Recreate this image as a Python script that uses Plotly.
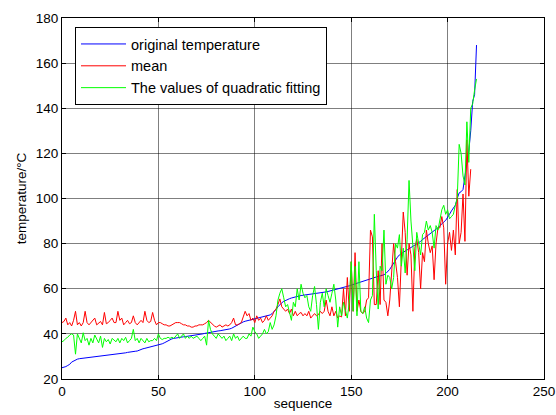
import plotly.graph_objects as go

blue_temp = [
    25, 25.2, 25.5, 26, 26.5, 27.5, 28, 28.5, 28.8, 29, 29.1,
    29.2, 29.3, 29.4, 29.5, 29.6, 29.7, 29.8, 29.9, 30, 30.1, 30.2, 30.3, 30.4, 30.5, 30.6, 30.7, 30.8, 30.9, 31, 31.1,
    31.3, 31.5, 31.6, 31.8, 32, 32.1, 32.2, 32.3, 32.4, 32.8, 33.1, 33.4, 33.6, 33.8, 34, 34.1, 34.3, 34.5, 34.8, 35,
    35.3, 35.6, 36, 36.5, 37, 37.5, 37.8, 38, 38.2, 38.4,
    38.5, 38.6, 38.7, 38.8, 38.9, 39, 39.1, 39.2, 39.3, 39.5, 39.7, 39.9, 40, 40.2, 40.4, 40.6, 40.8, 41, 41.1, 41.2,
    41.3, 41.4, 41.5, 41.6, 41.8, 42, 42.2, 42.5, 43, 43.5, 44, 44.5, 45, 45.3, 45.6, 45.8, 46, 46.2, 46.4, 46.6,
    46.8, 47, 47.2, 47.4, 47.6, 47.8, 48, 48.4, 49, 49.8, 50.8, 52, 53, 53.8, 54.4, 54.9, 55.3, 55.6, 55.9, 56.2,
    56.4, 56.6, 56.8, 57, 57.1, 57.2, 57.3, 57.4, 57.5, 57.6, 57.7, 57.8, 57.9, 58, 58.2, 58.4, 58.6, 58.8, 59, 59.2,
    59.4, 59.6, 59.8, 60, 60.2, 60.5, 60.8, 61, 61.3, 61.6,
    61.9, 62.2, 62.5, 62.8, 63.1, 63.4, 63.7, 64, 64.3, 64.6, 64.9, 65.1, 65.3, 65.5, 65.7, 65.9, 66.2, 66.8, 67.6, 68.6,
    70, 71.5, 73, 74, 75, 75.7, 76.2, 76.7, 77.2, 77.7, 78.2, 78.7, 79.2, 79.7, 80.3, 81, 81.8, 82.5, 83.2, 84,
    84.6, 85.2, 85.8, 86.4, 87, 88, 89, 89.6, 90.3, 91.5, 93, 94.5, 95.5, 97, 100, 102.5, 103, 104, 110, 116,
    121, 130, 143, 146, 168,
]

red_mean = [
    45, 45.5, 47, 44, 45, 43.5, 46, 50, 44, 45, 43.5, 45, 50, 45, 44, 45, 46, 47, 44, 45,
    45.5, 44, 49.5, 44.5, 45, 46, 47, 45, 45, 50, 46, 47, 44, 45, 46, 44.5, 45, 48, 45, 44,
    45, 46, 45, 50, 46, 45, 45.5, 49.5, 46, 44, 45,
    45, 44.5, 44, 44, 43.5, 43.5, 44, 44.5, 45, 45, 45, 44.5, 44, 44, 43.5, 43.5, 43, 43, 43.5, 43.5,
    44, 44, 44, 44.5, 45, 46, 45, 44, 43.5, 43, 43.5, 44, 43, 43.5, 44, 43.5, 44, 45, 47, 44,
    44, 44.5, 45, 47.5, 50, 48, 49, 46, 47, 45, 48, 46, 47, 45, 46, 48, 46, 47, 48, 50,
    51, 53, 55.5, 52, 51, 50, 51, 49, 51, 48, 50, 48, 49, 49.5, 48, 49, 48, 50, 47, 48,
    49, 48, 48.5, 50, 49, 50, 55, 50, 48, 52, 48, 50, 47, 48, 47.5,
    60, 48, 65, 50, 72, 50, 76, 50, 55, 50, 49, 50, 55, 56, 86, 83, 53, 53, 68, 53,
    80, 55, 54, 48, 55, 70, 80, 72, 65, 52, 70, 94, 85, 66, 80, 75, 50, 78, 82, 76,
    60, 76, 72, 86, 80, 76, 79, 64, 80, 87, 87, 92, 87, 62, 80, 85, 77, 86, 75, 104,
    80, 85, 102, 81, 126, 101, 113,
]

green_fit = [
    36.5, 37, 38, 38.5, 39.5, 40, 39.5, 31, 40, 38, 36, 40.5, 37, 38, 35, 38, 36, 39.5, 38, 36,
    39, 34, 38, 36.5, 37.5, 35.5, 38, 37, 36.5, 38, 36, 38, 37, 38.5, 36, 37, 38, 42, 37, 38,
    36, 38, 37, 36, 38, 36.5, 37, 37, 38, 37, 40,
    38, 37.5, 38, 38, 38.5, 38, 38.5, 38, 39, 40, 38, 39, 40, 38, 39, 38, 39, 38, 38.5, 39,
    38, 37, 38, 39, 35, 46, 42, 40, 39, 38, 40, 39, 38, 39, 37, 38, 39, 37, 40, 38,
    39, 37, 38, 39, 38, 38, 40, 39, 43, 41, 40, 38, 39, 40, 42, 40, 41, 45, 42, 44,
    48, 55, 58, 60, 56, 52, 53, 50, 46, 54, 52, 60, 55, 62, 58, 56, 57, 52, 50, 57,
    61, 53, 42, 54, 58, 52, 60, 57, 54, 58, 62, 55, 43, 52, 48, 54, 50, 47, 54, 72,
    50, 70, 48, 72, 50, 49, 52, 47, 45, 55, 57, 93, 68, 51, 70, 68, 86, 62, 66, 65,
    60, 65, 80, 78, 84, 70, 78, 67, 82, 108, 90, 78, 68, 85, 80, 75, 84, 85, 90, 86,
    88, 85, 78, 88, 86, 90, 95, 97, 93, 95, 91, 92, 93, 97, 100, 124, 120, 110, 106, 134,
    116, 140, 142, 148, 153,
]

legend_names = ["original temperature", "mean", "The values of quadratic fitting"]
x_ticks = [0, 50, 100, 150, 200, 250]
y_ticks = [20, 40, 60, 80, 100, 120, 140, 160, 180]

fig = go.Figure()
for vals, name, col in [(blue_temp, legend_names[0], "#0000ff"),
                        (red_mean, legend_names[1], "#ff0000"),
                        (green_fit, legend_names[2], "#00ff00")]:
    fig.add_trace(go.Scatter(x=list(range(len(vals))), y=vals, mode="lines", name=name,
                             line=dict(color=col, width=1)))

axis_common = dict(showline=True, linecolor="black", linewidth=1, mirror="ticks",
                   ticks="inside", ticklen=4, tickcolor="black", automargin=False,
                   showgrid=True, gridcolor="rgba(0,0,0,0.5)", gridwidth=1,
                   zeroline=False, tickfont=dict(family="Liberation Sans, Arial", size=13.5, color="black"))

fig.update_layout(
    width=556, height=415,
    paper_bgcolor="white", plot_bgcolor="white",
    margin=dict(l=62, r=12, t=18, b=36),
    font=dict(family="Liberation Sans, Arial", size=13.5, color="black"),
    xaxis=dict(range=[0, 250], tickvals=x_ticks,
               title=dict(text="sequence", font=dict(size=13.5), standoff=0), **axis_common),
    yaxis=dict(range=[20, 180], tickvals=y_ticks,
               title=dict(text="temperature/°C", font=dict(size=13.5), standoff=6), **axis_common),
    legend=dict(x=0.027, y=0.975, xanchor="left", yanchor="top",
                bgcolor="white", bordercolor="black", borderwidth=1,
                font=dict(size=14.5), tracegroupgap=0, itemwidth=45),
    showlegend=True,
)

fig.write_html(
    "out.html",
    config={"displayModeBar": False},
    post_script="document.body.style.margin='0';document.body.style.overflow='hidden';",
)
